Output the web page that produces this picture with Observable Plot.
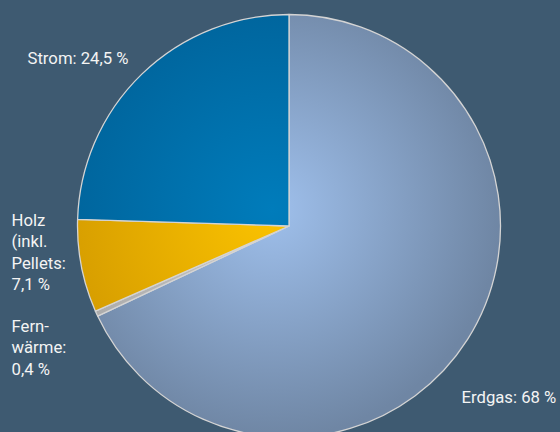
<!DOCTYPE html>
<html><head><meta charset="utf-8">
<script src="https://cdn.jsdelivr.net/npm/d3@7"></script>
<script src="https://cdn.jsdelivr.net/npm/@observablehq/plot@0.6"></script>
<style>html,body{margin:0;padding:0;background:#3e5a71;} #chart svg{display:block}</style>
</head><body><div id="chart"></div>
<script>
// Data (clockwise from 12 o'clock)
const categories = ["Erdgas", "Fernwärme", "Holz (inkl. Pellets)", "Strom"];
const shares = [68, 0.4, 7.1, 24.5];
const labelTexts = ["Erdgas: 68 %", "Fern-\nwärme:\n0,4 %", "Holz\n(inkl.\nPellets:\n7,1 %", "Strom: 24,5 %"];

// Layout / style (kept separate from the data)
const W = 560, H = 432;
const pieGeom = {cx: 289, cy: 226, r: 211.5};
const FS = 16.7;
const labelPos = [{x: 461, y: 399}, {x: 11, y: 328}, {x: 11, y: 222}, {x: 27, y: 60}];
const gradients = [
  {inner: "#9fc0ec", outer: "#6f86a4"},
  {inner: "#c8c8c8", outer: "#a9a9a9"},
  {inner: "#fbc300", outer: "#d39a00"},
  {inner: "#007cbb", outer: "#006299"}
];

const rows = categories.map((c, i) => ({category: c, share: shares[i], label: labelTexts[i], x: labelPos[i].x, y: labelPos[i].y - 0.71 * FS}));
const arcs = d3.pie().sort(null).value(d => d.share).startAngle(0).endAngle(2 * Math.PI)(rows);

function pieMark(index, scales) {
  const cx = scales.x(pieGeom.cx), cy = scales.y(pieGeom.cy);
  const r = scales.x(pieGeom.cx + pieGeom.r) - cx;
  const g = d3.create("svg:g");
  const defs = g.append("defs");
  gradients.forEach((gr, i) => {
    const rg = defs.append("radialGradient").attr("id", "pg" + i)
      .attr("gradientUnits", "userSpaceOnUse")
      .attr("cx", -0.08 * r).attr("cy", -0.08 * r).attr("r", r * 1.08)
      .attr("fx", -0.08 * r).attr("fy", -0.08 * r);
    rg.append("stop").attr("offset", "0%").attr("stop-color", gr.inner);
    rg.append("stop").attr("offset", "100%").attr("stop-color", gr.outer);
  });
  const arcGen = d3.arc().innerRadius(0).outerRadius(r);
  g.selectAll("path").data(arcs).join("path")
    .attr("transform", `translate(${cx},${cy})`)
    .attr("d", arcGen)
    .attr("fill", (d, i) => `url(#pg${i})`)
    .attr("stroke", "#d4d4d4")
    .attr("stroke-width", 1.3)
    .attr("stroke-linejoin", "round");
  return g.node();
}

const chart = Plot.plot({
  width: W, height: H,
  margin: 0,
  x: {domain: [0, W], range: [0, W], axis: null},
  y: {domain: [0, H], range: [0, H], axis: null},
  style: {background: "#3e5a71", color: "#f4f4f4", fontFamily: "Roboto, sans-serif", overflow: "hidden"},
  marks: [
    pieMark,
    Plot.text(rows, {x: "x", y: "y", text: "label", textAnchor: "start", lineAnchor: "top",
      lineHeight: 1.28, fontSize: FS, fill: "#f4f4f4"})
  ]
});
document.getElementById("chart").append(chart);
</script>
</body></html>
